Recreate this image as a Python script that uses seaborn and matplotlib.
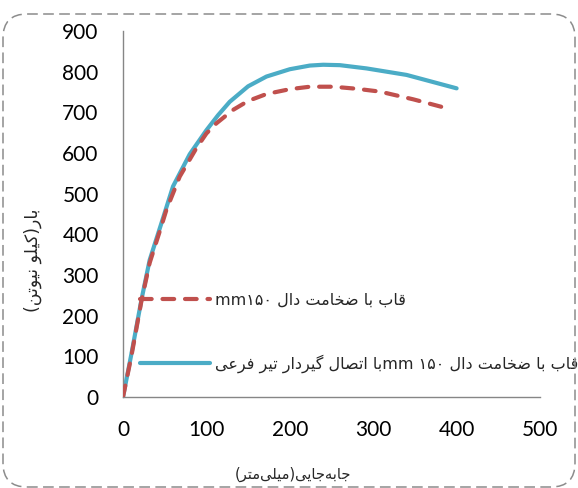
import numpy as np
import pandas as pd
import seaborn as sns
import matplotlib
matplotlib.use("Agg")
import matplotlib.pyplot as plt
from matplotlib.patches import FancyBboxPatch
from matplotlib.transforms import IdentityTransform

# ---------------- data ----------------
blue_x = [0, 10, 22, 32, 46, 60, 80, 100, 114, 128, 150, 172, 200, 224, 240, 260, 292, 340, 400]
blue_y = [0, 105, 238, 337, 427, 518, 597, 656, 693, 726, 764, 788, 806, 815, 817, 816, 808, 792, 759]
red_x = [0, 10, 22, 32, 46, 52, 68, 88, 100, 112, 132, 150, 172, 200, 224, 252, 280, 308, 348, 392]
red_y = [0, 100, 235, 330, 420, 460, 542, 612, 648, 673, 706, 728, 745, 757, 763, 763, 758, 751, 732, 708]
x_ticks = [0, 100, 200, 300, 400, 500]
y_ticks = [0, 100, 200, 300, 400, 500, 600, 700, 800, 900]

# ---------------- minimal Persian shaping (visual order) ----------------
FORMS = {
    'ا': ('\uFE8D', '\uFE8E'),
    'ب': ('\uFE8F', '\uFE90', '\uFE91', '\uFE92'),
    'ت': ('\uFE95', '\uFE96', '\uFE97', '\uFE98'),
    'ج': ('\uFE9D', '\uFE9E', '\uFE9F', '\uFEA0'),
    'خ': ('\uFEA5', '\uFEA6', '\uFEA7', '\uFEA8'),
    'د': ('\uFEA9', '\uFEAA'),
    'ر': ('\uFEAD', '\uFEAE'),
    'ص': ('\uFEB9', '\uFEBA', '\uFEBB', '\uFEBC'),
    'ض': ('\uFEBD', '\uFEBE', '\uFEBF', '\uFEC0'),
    'ع': ('\uFEC9', '\uFECA', '\uFECB', '\uFECC'),
    'ف': ('\uFED1', '\uFED2', '\uFED3', '\uFED4'),
    'ق': ('\uFED5', '\uFED6', '\uFED7', '\uFED8'),
    'ل': ('\uFEDD', '\uFEDE', '\uFEDF', '\uFEE0'),
    'م': ('\uFEE1', '\uFEE2', '\uFEE3', '\uFEE4'),
    'ن': ('\uFEE5', '\uFEE6', '\uFEE7', '\uFEE8'),
    'ه': ('\uFEE9', '\uFEEA', '\uFEEB', '\uFEEC'),
    'و': ('\uFEED', '\uFEEE'),
    'ک': ('\uFB8E', '\uFB8F', '\uFB90', '\uFB91'),
    'گ': ('\uFB92', '\uFB93', '\uFB94', '\uFB95'),
    'ی': ('\uFBFC', '\uFBFD', '\uFBFE', '\uFBFF'),
}


def shape(s):
    out = []
    for i, c in enumerate(s):
        f = FORMS.get(c)
        if f is None:
            out.append(c)
            continue
        prev = s[i - 1] if i > 0 else ''
        nxt = s[i + 1] if i + 1 < len(s) else ''
        jp = prev in FORMS and len(FORMS[prev]) == 4
        jn = len(f) == 4 and nxt in FORMS
        if jp and jn:
            out.append(f[3])
        elif jp:
            out.append(f[1])
        elif jn:
            out.append(f[2])
        else:
            out.append(f[0])
    return ''.join(ch for ch in out if ch != '\u200c')


def rtl(s):
    v = shape(s)[::-1]
    return v.translate(str.maketrans('()', ')('))


num150 = '\u06F1\u06F5\u06F0'
label_red = 'mm' + num150 + ' ' + rtl('قاب با ضخامت دال')
label_blue = rtl('با اتصال گیردار تیر فرعی') + 'mm ' + num150 + ' ' + rtl('قاب با ضخامت دال')
xlabel = rtl('جابه\u200cجایی(میلی\u200cمتر)')
ylabel = rtl('بار(کیلو نیوتن)')

# ---------------- plot ----------------
sns.set_style("white")
plt.rcParams['font.family'] = ['DejaVu Sans']

W, H, DPI = 578, 488, 100
fig = plt.figure(figsize=(W / DPI, H / DPI), dpi=DPI)
fig.patch.set_facecolor('white')

ax_l, ax_r, ax_t, ax_b = 123, 540, 31, 397
ax = fig.add_axes([ax_l / W, 1 - ax_b / H, (ax_r - ax_l) / W, (ax_b - ax_t) / H])

blue_df = pd.DataFrame({'x': blue_x, 'y': blue_y})
red_df = pd.DataFrame({'x': red_x, 'y': red_y})

blue_c = '#4BACC6'
red_c = '#C0504D'
sns.lineplot(data=red_df, x='x', y='y', ax=ax, color=red_c, linewidth=3.0,
             linestyle=(0, (2.8, 2.6)), dash_capstyle='round', sort=False,
             label=label_red, zorder=3)
sns.lineplot(data=blue_df, x='x', y='y', ax=ax, color=blue_c, linewidth=3.0,
             solid_capstyle='round', solid_joinstyle='round', sort=False,
             label=label_blue, zorder=2)

ax.set_xlim(0, 500)
ax.set_ylim(0, 900)
ax.set_xticks(x_ticks)
ax.set_yticks(y_ticks)
ax.set_xticklabels([str(v) for v in x_ticks], family='Lato', fontsize=15)
ax.set_yticklabels([str(v) for v in y_ticks], family='Lato', fontsize=15)

axis_c = '#868686'
for side in ['top', 'right']:
    ax.spines[side].set_visible(False)
for side in ['left', 'bottom']:
    ax.spines[side].set_color(axis_c)
    ax.spines[side].set_linewidth(1.0)
ax.tick_params(axis='both', direction='out', length=5.5, width=1.0, color=axis_c,
               labelcolor='black')
ax.tick_params(axis='y', pad=12)
ax.tick_params(axis='x', pad=11)
ax.set_xlabel('')
ax.set_ylabel('')

# axis titles
fig.text(293 / W, 1 - 474 / H, xlabel, ha='center', va='center', fontsize=10.5,
         family='DejaVu Sans')
fig.text(33 / W, 1 - 260 / H, ylabel, ha='center', va='center', fontsize=12.5,
         family='DejaVu Sans', rotation=90)

# legend
leg = ax.legend(loc='center left', bbox_to_anchor=(140 / W, 1 - 333 / H),
                bbox_transform=fig.transFigure, frameon=False, fontsize=11.5,
                handlelength=4.4, handletextpad=0.3, labelspacing=2.95,
                borderpad=0, borderaxespad=0)
for t in leg.get_texts():
    t.set_family('DejaVu Sans')

# dashed rounded frame around the figure
frame = FancyBboxPatch((3, 1), 572, 473, boxstyle='round,pad=0,rounding_size=24',
                       transform=IdentityTransform(), facecolor='none',
                       edgecolor='#8c8c8c', linewidth=1.1,
                       linestyle=(0, (7, 3.5)), clip_on=False)
fig.add_artist(frame)

fig.savefig('out.png', dpi=DPI)
